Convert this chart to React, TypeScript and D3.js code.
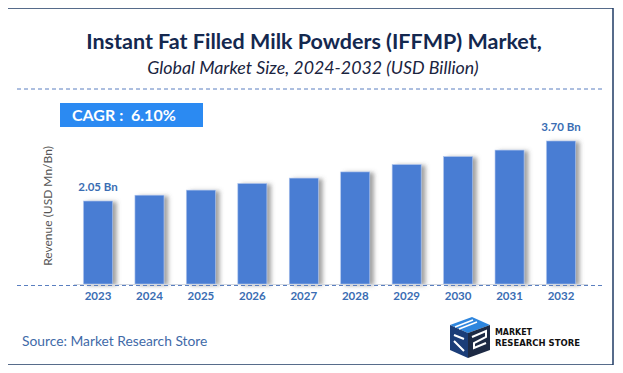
import { useEffect, useRef } from "react"
import * as d3 from "d3"

const years = ["2023", "2024", "2025", "2026", "2027", "2028", "2029", "2030", "2031", "2032"]
const revenue = [2.05, 2.21, 2.35, 2.53, 2.68, 2.85, 3.05, 3.27, 3.45, 3.70]
const barLabels = ["2.05 Bn", "", "", "", "", "", "", "", "", "3.70 Bn"]
const titleText = "Instant Fat Filled Milk Powders (IFFMP) Market,"
const subtitleText = "Global Market Size, 2024-2032 (USD Billion)"
const cagrText = "CAGR :  6.10%"
const yAxisLabel = "Revenue (USD Mn/Bn)"
const sourceText = "Source: Market Research Store"

const width = 623
const height = 373
const FONT = "Lato, 'Open Sans', sans-serif"
const LOGO_FONT = "'DejaVu Sans Condensed', 'DejaVu Sans', sans-serif"

export default function App() {
  const svgRef = useRef<SVGSVGElement>(null)

  useEffect(() => {
    if (!svgRef.current) return
    const svg = d3.select(svgRef.current)
    svg.selectAll("*").remove()

    const defs = svg.append("defs")
    const f = defs.append("filter").attr("id", "barShadow")
      .attr("x", "-20%").attr("y", "-10%").attr("width", "160%").attr("height", "120%")
    f.append("feDropShadow").attr("dx", 4).attr("dy", 1).attr("stdDeviation", 2)
      .attr("flood-color", "#555").attr("flood-opacity", 0.55)

    svg.append("rect").attr("width", width).attr("height", height).attr("fill", "#fff")

    // frame
    svg.append("rect").attr("x", 7).attr("y", 8).attr("width", 606).attr("height", 357)
      .attr("fill", "none").attr("stroke", "#1f3b64").attr("stroke-width", 1.5)

    // titles
    svg.append("text").attr("x", 314).attr("y", 49).attr("text-anchor", "middle")
      .attr("font-family", FONT).attr("font-weight", 700).attr("font-size", 21.5)
      .attr("fill", "#14284f").text(titleText)
    svg.append("text").attr("x", 313).attr("y", 74).attr("text-anchor", "middle")
      .attr("font-family", FONT).attr("font-style", "italic").attr("font-size", 17.8)
      .attr("fill", "#1a2440").text(subtitleText)

    const dashed = (y: number) =>
      svg.append("line").attr("x1", 17).attr("x2", 605).attr("y1", y).attr("y2", y)
        .attr("stroke", "#5a7fc0").attr("stroke-width", 1).attr("stroke-dasharray", "4,3")
    dashed(89)

    // CAGR box
    svg.append("rect").attr("x", 60).attr("y", 103).attr("width", 143).attr("height", 24)
      .attr("fill", "#2b8af2")
    svg.append("text").attr("x", 72).attr("y", 121)
      .attr("font-family", FONT).attr("font-weight", 700).attr("font-size", 16)
      .attr("fill", "#fff").attr("xml:space", "preserve").text(cagrText)

    // scales
    const x = d3.scaleBand().domain(years).range([72.3, 586.7]).paddingInner(0.436).paddingOuter(0.218)
    const y = d3.scaleLinear().domain([-0.23, 3.70]).range([284, 141])

    const chart = svg.append("g")

    chart.selectAll("rect.bar").data(revenue).enter().append("rect")
      .attr("class", "bar")
      .attr("x", (_, i) => x(years[i]) as number)
      .attr("y", d => y(d))
      .attr("width", x.bandwidth())
      .attr("height", d => y(-0.23) - y(d))
      .attr("fill", "#4a7dd3")
      .attr("stroke", "#a9c1ec").attr("stroke-width", 0.6)
      .attr("filter", "url(#barShadow)")

    chart.selectAll("text.val").data(revenue).enter().append("text")
      .attr("class", "val")
      .attr("x", (_, i) => (x(years[i]) as number) + x.bandwidth() / 2)
      .attr("y", d => y(d) - 10)
      .attr("text-anchor", "middle")
      .attr("font-family", FONT).attr("font-weight", 700).attr("font-size", 11.5)
      .attr("fill", "#3a6db3")
      .text((_, i) => barLabels[i])

    // baseline
    svg.append("line").attr("x1", 74).attr("x2", 588).attr("y1", 284.5).attr("y2", 284.5)
      .attr("stroke", "#d0d6e0").attr("stroke-width", 1)
    dashed(285.5)

    // x axis labels
    const xAxis = chart.append("g").attr("transform", "translate(0,292)")
      .call(d3.axisBottom(x).tickSize(0).tickPadding(0))
    xAxis.select(".domain").remove()
    xAxis.selectAll("text")
      .attr("font-family", FONT).attr("font-weight", 700).attr("font-size", 11.5)
      .attr("fill", "#3a6db3").attr("dy", "0.71em")

    // y label
    svg.append("text").attr("transform", "translate(52,206) rotate(-90)")
      .attr("text-anchor", "middle")
      .attr("font-family", FONT).attr("font-size", 12).attr("fill", "#555")
      .text(yAxisLabel)

    // source
    svg.append("text").attr("x", 22).attr("y", 346)
      .attr("font-family", FONT).attr("font-size", 13.8).attr("fill", "#3f6aa8")
      .text(sourceText)

    // logo
    const logo = svg.append("g").attr("transform", "translate(450,317)")
    logo.append("path").attr("d", "M0,8 L22,0 L40,8 L18,16 Z").attr("fill", "#2e86de")
    logo.append("path").attr("d", "M0,8 L18,16 L18,41 L0,33 Z").attr("fill", "#1b3d78")
    logo.append("path").attr("d", "M18,16 L40,8 L40,33 L18,41 Z").attr("fill", "#1d2a44")
    logo.append("path").attr("d", "M5,10 L23,3 M9,12 L27,5").attr("stroke", "#fff").attr("stroke-width", 1.6)
    logo.append("path").attr("d", "M22,20 L36,14 L36,20 L24,26 L24,31 L36,26")
      .attr("fill", "none").attr("stroke", "#fff").attr("stroke-width", 2)
    logo.append("path").attr("d", "M4,18 L14,22 M4,24 L14,34")
      .attr("fill", "none").attr("stroke", "#fff").attr("stroke-width", 2)

    svg.append("text").attr("x", 495).attr("y", 335)
      .attr("font-family", LOGO_FONT).attr("font-weight", 700)
      .attr("font-size", 9).attr("fill", "#111")
      .attr("textLength", 37).attr("lengthAdjust", "spacingAndGlyphs").text("MARKET")
    svg.append("text").attr("x", 495).attr("y", 346)
      .attr("font-family", LOGO_FONT).attr("font-weight", 700)
      .attr("font-size", 9).attr("fill", "#111")
      .attr("textLength", 85).attr("lengthAdjust", "spacingAndGlyphs").text("RESEARCH STORE")
  }, [])

  return (
    <div style={{ width: `${width}px`, height: `${height}px`, margin: "-8px" }}>
      <svg ref={svgRef} width={width} height={height} viewBox={`0 0 ${width} ${height}`}
        style={{ display: "block" }} xmlns="http://www.w3.org/2000/svg"></svg>
    </div>
  )
}
